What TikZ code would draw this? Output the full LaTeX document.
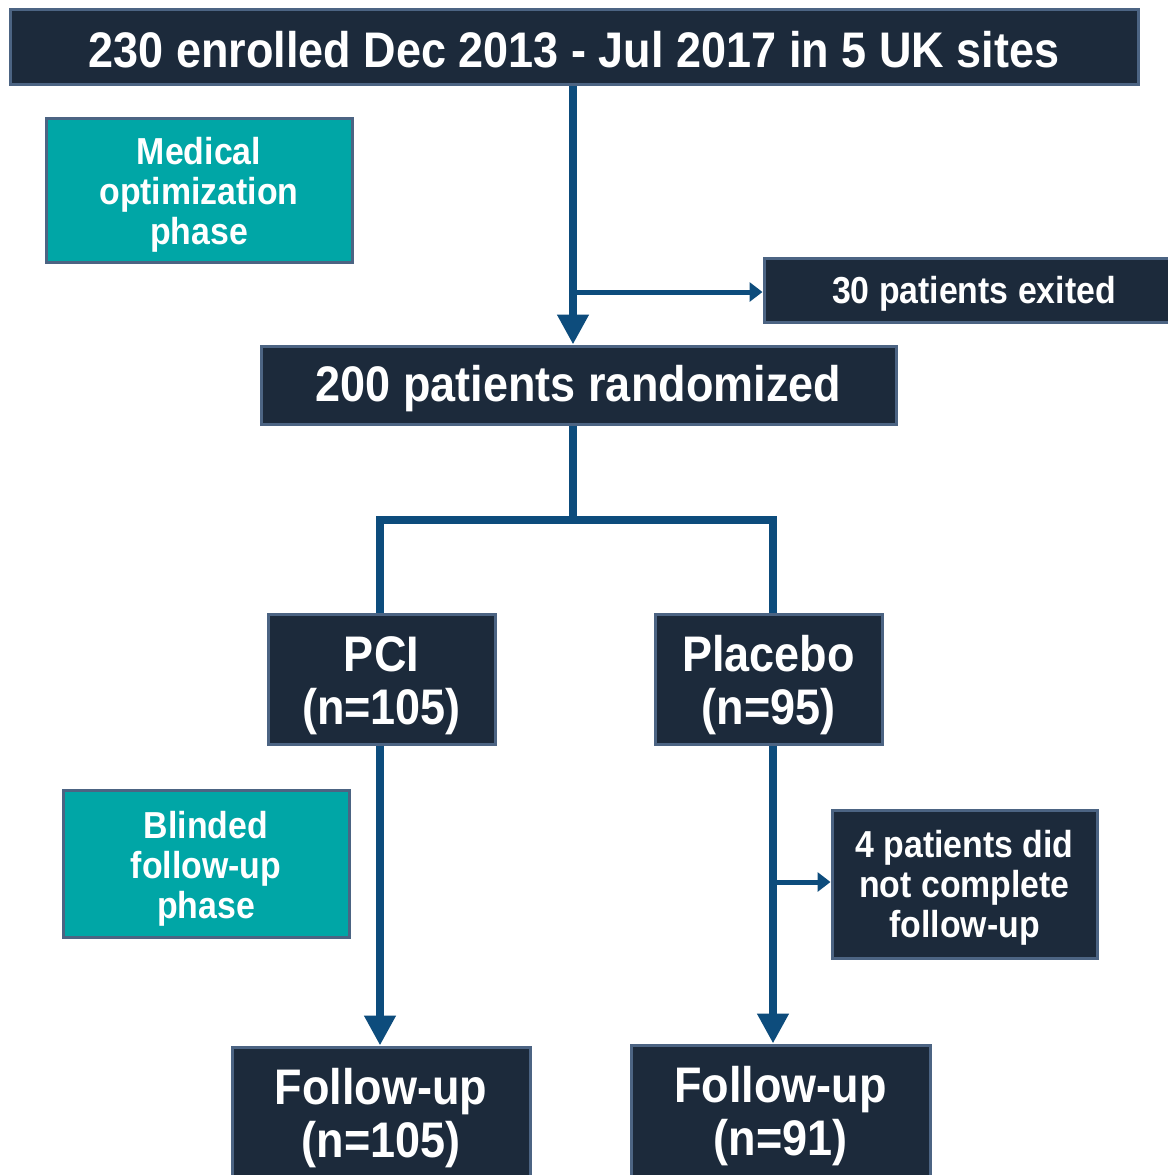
\documentclass[tikz,border=0pt]{standalone}
\usepackage{fontspec}
\setmainfont{Liberation Sans}[FakeStretch=0.9]
\usetikzlibrary{arrows.meta, positioning}
\definecolor{mNavy}{HTML}{1C2A3B}
\definecolor{mEdge}{HTML}{4C6483}
\definecolor{mTeal}{HTML}{00A6A6}
\definecolor{mArrow}{HTML}{0D4C7C}

\tikzset{
  stepbox/.style={draw=mEdge, line width=1.5pt, fill=mNavy, text=white, align=center, inner sep=0pt},
  phasebox/.style={stepbox, fill=mTeal},
  bigtext/.style={font=\fontsize{25}{26.5}\selectfont\bfseries},
  smalltext/.style={font=\fontsize{18.8}{20}\selectfont\bfseries},
  trunk/.style={mArrow, line width=4pt},
  flow/.style={trunk, -{Triangle[length=15pt, width=15pt]}},
  side/.style={mArrow, line width=2.5pt, -{Triangle[length=6.5pt, width=9.5pt]}},
}

\begin{document}
\begin{tikzpicture}[x=0.5pt, y=-0.5pt]
    \useasboundingbox[fill=white] (0,0) rectangle (1168,1175);

    \node[stepbox, bigtext, text height=20.3pt, minimum width=564pt, minimum height=37.5pt] (enrol) at (574,47) {230 enrolled Dec 2013 - Jul 2017 in 5 UK sites};
    \node[phasebox, smalltext, text height=58.7pt, minimum width=153pt, minimum height=72pt] (medopt) at (199,190) {Medical\\optimization\\phase};
    \node[stepbox, smalltext, text height=17.7pt, minimum width=210pt, minimum height=32pt] (exited) at (974,290) {30 patients exited};
    \node[stepbox, bigtext, text height=22pt, minimum width=317.5pt, minimum height=39pt] (rand) at (578.5,385) {200 patients randomized};

    \node[stepbox, bigtext, text height=51pt, minimum width=113.5pt, minimum height=65pt] (pci) at (381.5,679) {PCI\\(n=105)};
    \node[stepbox, bigtext, text height=51pt, minimum width=113.5pt, minimum height=65pt] (placebo) at (768.5,679) {Placebo\\(n=95)};

    \node[phasebox, smalltext, text height=58.7pt, minimum width=143pt, minimum height=73.5pt] (blind) at (206,863.5) {Blinded\\follow-up\\phase};
    \node[stepbox, smalltext, text height=57.7pt, minimum width=132.5pt, minimum height=74pt] (lost) at (964.5,884) {4 patients did\\not complete\\follow-up};

    \node[stepbox, bigtext, minimum width=149pt, minimum height=71pt] (fupci) at (381,1118) {Follow-up\\(n=105)};
    \node[stepbox, bigtext, minimum width=149.5pt, minimum height=71pt] (fuplac) at (780.5,1116) {Follow-up\\(n=91)};

    \coordinate (exitpt) at (573,292);
    \coordinate (split) at (573,520);
    \coordinate (lostpt) at (773,882);

    \draw[flow] (exitpt |- enrol.south) -- (exitpt |- rand.north);
    \draw[side] (exitpt) -- (exitpt -| exited.west);
    \draw[trunk] (split |- rand.south) -- (split);
    \draw[trunk] (split) -| ([xshift=-0.75pt]pci.north);
    \draw[trunk] (split) -| ([xshift=2.25pt]placebo.north);
    \draw[flow] ([xshift=-0.75pt]pci.south) -- ([xshift=-0.75pt]pci.south |- fupci.north);
    \draw[flow] (lostpt |- placebo.south) -- (lostpt |- fuplac.north);
    \draw[side] (lostpt) -- (lostpt -| lost.west);
\end{tikzpicture}
\end{document}
